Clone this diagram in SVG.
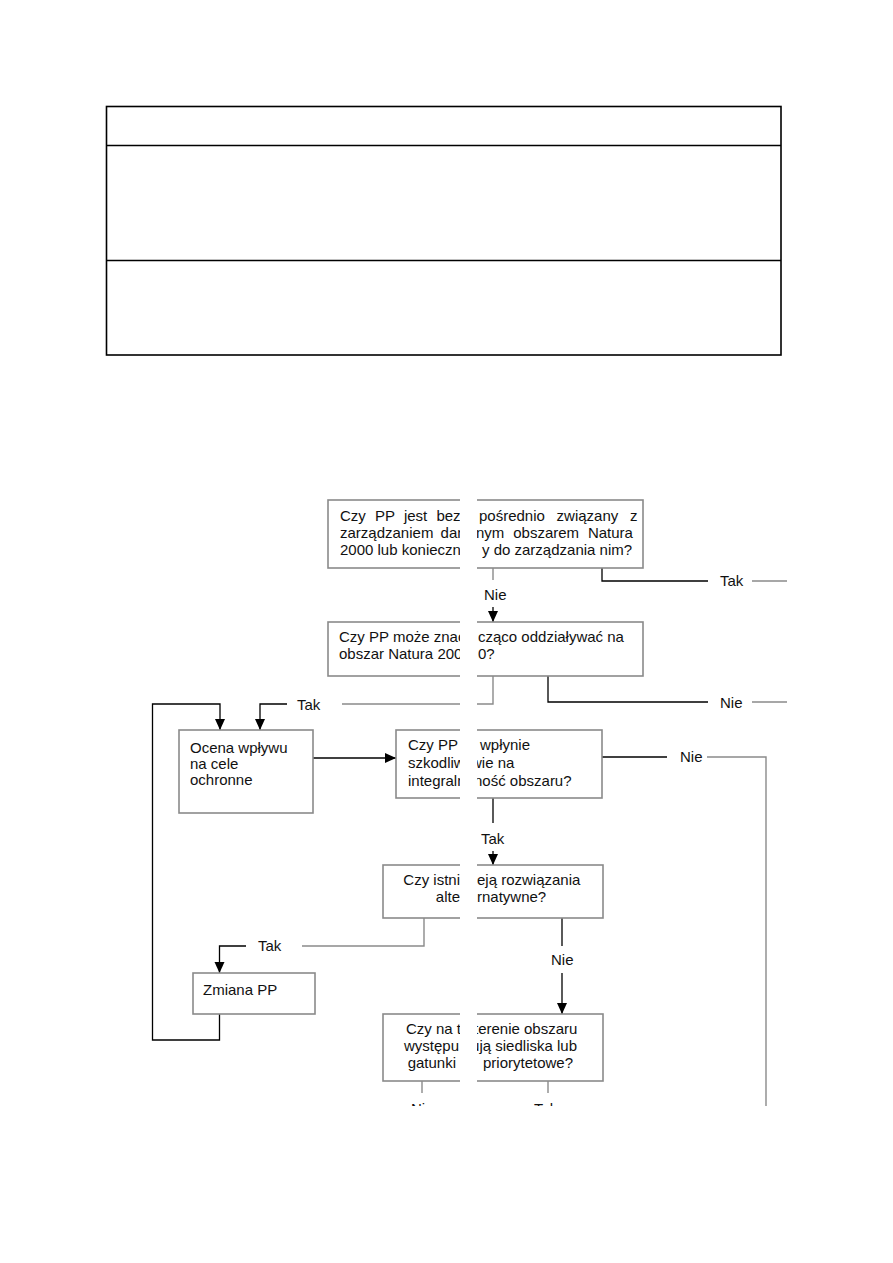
<svg xmlns="http://www.w3.org/2000/svg" width="893" height="1263" viewBox="0 0 893 1263">
  <style>
    .tbl { fill: none; stroke: #000; stroke-width: 1.6; }
    .box { fill: #fff; stroke: #8a8a8a; stroke-width: 1.6; }
    .cb { fill: none; stroke: #000; stroke-width: 1.3; }
    .cg { fill: none; stroke: #8a8a8a; stroke-width: 1.4; }
    .t { font-family: "Liberation Sans", Arial, sans-serif; font-size: 15px; fill: #111; }
    .gap { fill: #fff; stroke: none; }
  </style>
  <defs>
    <marker id="ah" viewBox="0 0 11 11" refX="11" refY="5.5" markerWidth="11" markerHeight="11" markerUnits="userSpaceOnUse" orient="auto">
      <path d="M0,0.5 L11,5.5 L0,10.5 z" fill="#000"/>
    </marker>
    <clipPath id="clipBottom">
      <rect x="0" y="0" width="893" height="1106"/>
    </clipPath>
  </defs>
  <rect x="0" y="0" width="893" height="1263" fill="#fff"/>

  <g id="table">
    <rect class="tbl" x="106.5" y="106.5" width="674.5" height="248.5"/>
    <line class="tbl" x1="106.5" y1="145.5" x2="781" y2="145.5"/>
    <line class="tbl" x1="106.5" y1="260.5" x2="781" y2="260.5"/>
  </g>

  <g id="connectors">
    <line class="cg" x1="493" y1="568" x2="493" y2="580"/>
    <line class="cb" x1="493" y1="607" x2="493" y2="622" marker-end="url(#ah)"/>
    <polyline class="cb" points="602,568 602,581 708,581"/>
    <line class="cg" x1="752" y1="581" x2="787" y2="581"/>
    <polyline class="cb" points="548,676 548,702 708,702"/>
    <line class="cg" x1="752" y1="702" x2="787" y2="702"/>
    <polyline class="cg" points="493,676 493,704 342,704"/>
    <polyline class="cb" points="287,704 260,704 260,730" marker-end="url(#ah)"/>
    <polyline class="cb" points="219.5,1014 219.5,1040 152.5,1040 152.5,704 220,704 220,730" marker-end="url(#ah)"/>
    <line class="cb" x1="313" y1="758" x2="396" y2="758" marker-end="url(#ah)"/>
    <line class="cb" x1="602" y1="757" x2="667" y2="757"/>
    <polyline class="cg" points="707,757 766,757 766,1106"/>
    <line class="cb" x1="493" y1="798" x2="493" y2="823"/>
    <line class="cb" x1="493" y1="851" x2="493" y2="865" marker-end="url(#ah)"/>
    <polyline class="cg" points="424,918 424,946 302,946"/>
    <polyline class="cb" points="246,946 219.5,946 219.5,973" marker-end="url(#ah)"/>
    <line class="cb" x1="562" y1="918" x2="562" y2="946"/>
    <line class="cb" x1="562" y1="973" x2="562" y2="1014" marker-end="url(#ah)"/>
    <line class="cg" x1="422" y1="1081" x2="422" y2="1093"/>
    <line class="cg" x1="548" y1="1081" x2="548" y2="1093"/>
  </g>

  <g id="labels">
    <text class="t" x="484" y="600">Nie</text>
    <text class="t" x="720" y="586">Tak</text>
    <text class="t" x="720" y="708">Nie</text>
    <text class="t" x="297" y="710">Tak</text>
    <text class="t" x="680" y="762">Nie</text>
    <text class="t" x="481" y="844">Tak</text>
    <text class="t" x="258" y="951">Tak</text>
    <text class="t" x="551" y="965">Nie</text>
    <g clip-path="url(#clipBottom)">
      <text class="t" x="411" y="1114">Nie</text>
      <text class="t" x="534" y="1114">Tak</text>
    </g>
  </g>

  <g id="node-q1">
    <rect class="box" x="328" y="500" width="315" height="68"/>
    <text class="t" x="340" y="521" word-spacing="5">Czy PP jest bez</text>
    <text class="t" x="479" y="521" word-spacing="7.5">pośrednio związany z</text>
    <text class="t" x="340" y="538" word-spacing="3">zarządzaniem dan</text>
    <text class="t" x="476" y="538" word-spacing="4.7">nym obszarem Natura</text>
    <text class="t" x="340" y="555">2000 lub konieczn</text>
    <text class="t" x="482" y="555">y do zarządzania nim?</text>
  </g>

  <g id="node-q2">
    <rect class="box" x="328" y="622" width="315" height="54"/>
    <text class="t" x="339" y="641.5">Czy PP może znac</text>
    <text class="t" x="478" y="641.5">cząco oddziaływać na</text>
    <text class="t" x="339" y="658.5">obszar Natura 200</text>
    <text class="t" x="478" y="658.5">0?</text>
  </g>

  <g id="node-ocena">
    <rect class="box" x="179" y="730" width="134" height="83"/>
    <text class="t" x="190" y="753">Ocena wpływu</text>
    <text class="t" x="190" y="769">na cele</text>
    <text class="t" x="190" y="785">ochronne</text>
  </g>

  <g id="node-q3">
    <rect class="box" x="396" y="730" width="206" height="68"/>
    <text class="t" x="408" y="750">Czy PP</text>
    <text class="t" x="480" y="750">wpłynie</text>
    <text class="t" x="408" y="768">szkodliw</text>
    <text class="t" x="471" y="768">wie na</text>
    <text class="t" x="408" y="786">integraln</text>
    <text class="t" x="474" y="786">ność obszaru?</text>
  </g>

  <g id="node-alt">
    <rect class="box" x="383" y="865" width="220" height="53"/>
    <text class="t" x="460" y="885" text-anchor="end">Czy istni</text>
    <text class="t" x="477" y="885">eją rozwiązania</text>
    <text class="t" x="460" y="902" text-anchor="end">alte</text>
    <text class="t" x="477" y="902">rnatywne?</text>
  </g>

  <g id="node-zmiana">
    <rect class="box" x="193" y="973" width="122" height="41"/>
    <text class="t" x="203" y="995">Zmiana PP</text>
  </g>

  <g id="node-q4">
    <rect class="box" x="383" y="1014" width="220" height="67"/>
    <text class="t" x="461" y="1034" text-anchor="end">Czy na t</text>
    <text class="t" x="474" y="1034">terenie obszaru</text>
    <text class="t" x="459" y="1051" text-anchor="end">występu</text>
    <text class="t" x="577" y="1051" text-anchor="end">ują siedliska lub</text>
    <text class="t" x="456" y="1068" text-anchor="end">gatunki</text>
    <text class="t" x="483" y="1068">priorytetowe?</text>
  </g>

  <rect class="gap" x="460" y="495" width="17" height="615"/>
</svg>
